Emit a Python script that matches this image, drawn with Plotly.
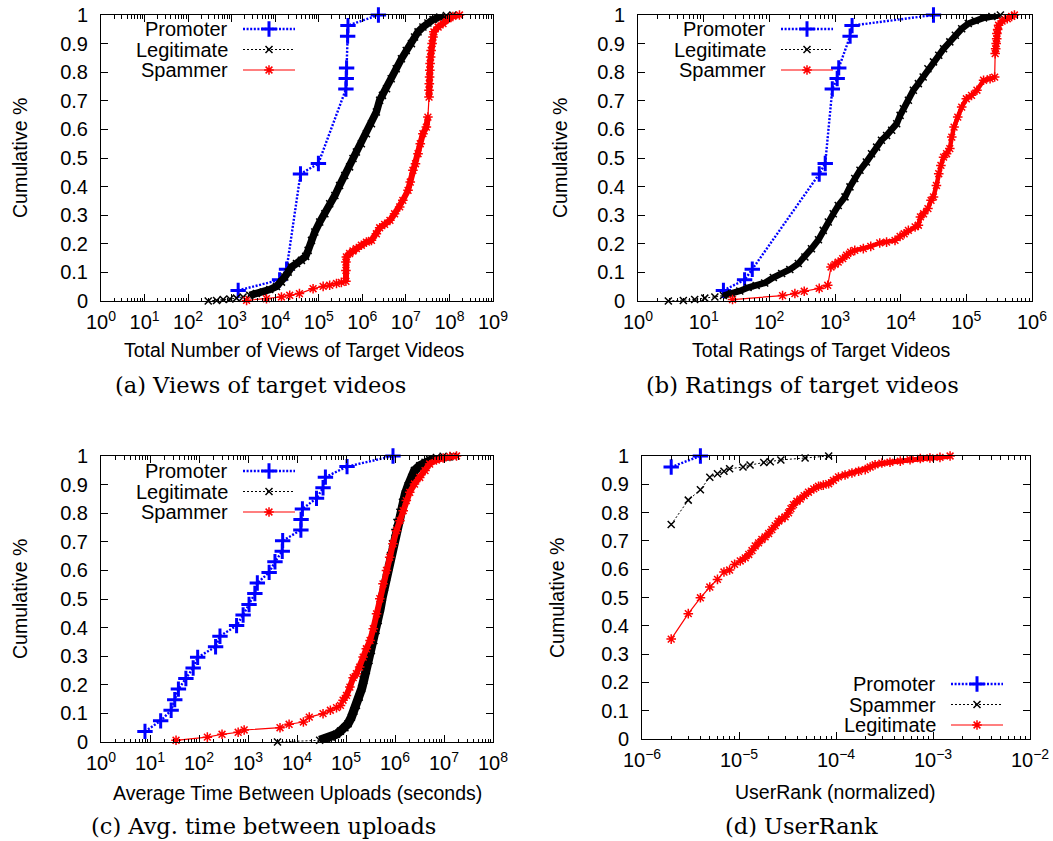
import plotly.graph_objects as go

W, H = 1053, 841

# ---------------- (a) views of target videos ----------------
views_prom_x = [1.41e3, 1.26e4, 1.82e4, 3.8e4, 9.8e4, 4.2e5, 4.27e5, 4.35e5, 4.6e5, 4.68e5, 2.34e6]
views_prom_y = [0.037, 0.074, 0.111, 0.444, 0.481, 0.741, 0.778, 0.815, 0.926, 0.963, 1.0]

views_legit_x = [2.9e2, 4.5e2, 6.4e2, 9.1e2, 1.29e3, 1.83e3, 2.6e3, 3.7e3, 5.3e3, 7.5e3,
                 1.07e4, 1.39e4, 1.66e4, 1.98e4, 2.36e4, 3.08e4, 4.0e4, 5.0e4, 5.7e4, 6.8e4,
                 8.1e4, 1.05e5, 1.38e5, 1.78e5, 2.34e5, 3.0e5, 3.95e5, 5.1e5, 6.1e5, 7.3e5,
                 9.5e5, 1.24e6, 1.62e6, 2.1e6, 2.5e6, 2.9e6, 3.6e6, 4.6e6, 6.0e6, 7.9e6,
                 1.02e7, 1.34e7, 1.58e7, 1.9e7, 2.46e7, 3.2e7, 4.2e7, 6.0e7, 8.5e7, 1.2e8]
views_legit_y = [0.0, 0.002, 0.005, 0.007, 0.010, 0.014, 0.020, 0.026, 0.031, 0.040,
                 0.051, 0.066, 0.084, 0.101, 0.119, 0.131, 0.142, 0.156, 0.177, 0.212,
                 0.241, 0.276, 0.305, 0.340, 0.369, 0.404, 0.439, 0.469, 0.498, 0.521,
                 0.550, 0.585, 0.620, 0.661, 0.702, 0.719, 0.742, 0.777, 0.812, 0.847,
                 0.876, 0.900, 0.923, 0.941, 0.958, 0.972, 0.984, 0.993, 0.998, 1.0]

views_spam_x = [2.2e3, 6.3e3, 1.39e4, 2.15e4, 3.6e4, 7.4e4, 1.26e5, 1.78e5, 2.55e5, 3.3e5,
                4.2e5, 4.2e5, 4.2e5, 4.3e5, 5.1e5, 6.1e5, 7.3e5, 9.5e5, 1.24e6, 1.62e6,
                2.1e6, 2.5e6, 3.25e6, 4.3e6, 5.5e6, 7.2e6, 8.5e6, 1.12e7, 1.26e7, 1.45e7,
                1.66e7, 1.9e7, 2.14e7, 2.46e7, 2.95e7, 3.2e7, 3.4e7, 3.4e7, 3.45e7, 3.5e7,
                3.55e7, 3.6e7, 3.7e7, 3.8e7, 4.0e7, 4.2e7, 4.4e7, 5.5e7, 7.1e7, 9.3e7,
                1.2e8, 1.7e8]
views_spam_y = [0.002, 0.008, 0.014, 0.020, 0.026, 0.043, 0.051, 0.055, 0.061, 0.065,
                0.069, 0.107, 0.136, 0.154, 0.166, 0.175, 0.183, 0.195, 0.206, 0.212,
                0.235, 0.256, 0.268, 0.282, 0.305, 0.329, 0.352, 0.387, 0.416, 0.457,
                0.480, 0.515, 0.550, 0.585, 0.608, 0.643, 0.713, 0.737, 0.760, 0.783,
                0.807, 0.830, 0.853, 0.876, 0.900, 0.923, 0.941, 0.958, 0.970, 0.987,
                0.995, 1.0]

# ---------------- (b) ratings of target videos ----------------
ratings_prom_x = [20, 42, 55, 575, 710, 910, 1.08e3, 1.14e3, 1.7e3, 1.82e3, 3.16e4]
ratings_prom_y = [0.037, 0.074, 0.111, 0.444, 0.481, 0.741, 0.778, 0.815, 0.926, 0.963, 1.0]

ratings_legit_x = [2.9, 4.9, 7.3, 10.4, 14.8, 20, 26.5, 35.5, 47.5, 63,
                   85, 115, 154, 205, 276, 348, 438, 560, 662, 790,
                   940, 1.12e3, 1.42e3, 1.69e3, 2.0e3, 2.4e3, 3.0e3, 3.6e3, 4.3e3, 5.1e3,
                   6.1e3, 7.3e3, 8.7e3, 9.8e3, 1.1e4, 1.31e4, 1.56e4, 1.86e4, 2.2e4, 2.6e4,
                   3.16e4, 3.8e4, 4.5e4, 5.6e4, 6.8e4, 8.5e4, 1.07e5, 1.36e5, 1.83e5, 2.45e5,
                   3.3e5]
ratings_legit_y = [0.0, 0.002, 0.005, 0.010, 0.014, 0.019, 0.026, 0.035, 0.047, 0.054,
                   0.063, 0.082, 0.096, 0.110, 0.131, 0.154, 0.183, 0.214, 0.247, 0.276,
                   0.305, 0.334, 0.364, 0.399, 0.428, 0.457, 0.486, 0.515, 0.538, 0.562,
                   0.579, 0.597, 0.620, 0.649, 0.672, 0.702, 0.737, 0.760, 0.783, 0.812,
                   0.836, 0.859, 0.882, 0.906, 0.929, 0.952, 0.970, 0.981, 0.990, 0.995,
                   1.0]

ratings_spam_x = [27.5, 159, 245, 340, 575, 775, 870, 1.0e3, 1.12e3, 1.31e3,
                  1.5e3, 1.73e3, 2.0e3, 2.7e3, 3.5e3, 4.8e3, 6.1e3, 8.2e3, 9.8e3, 1.13e4,
                  1.31e4, 1.66e4, 1.86e4, 2.0e4, 2.23e4, 2.6e4, 2.9e4, 3.16e4, 3.5e4, 3.8e4,
                  4.1e4, 4.5e4, 5.0e4, 5.6e4, 6.0e4, 6.5e4, 7.4e4, 8.5e4, 1.0e5, 1.2e5,
                  1.45e5, 1.83e5, 2.3e5, 2.7e5, 2.75e5, 2.8e5, 2.85e5, 2.9e5, 2.92e5, 3.0e5,
                  3.1e5, 3.5e5, 4.2e5, 4.9e5, 5.4e5]
ratings_spam_y = [0.005, 0.019, 0.026, 0.034, 0.044, 0.055, 0.119, 0.128, 0.136, 0.148,
                  0.160, 0.171, 0.177, 0.183, 0.191, 0.203, 0.206, 0.212, 0.226, 0.235,
                  0.247, 0.259, 0.265, 0.294, 0.305, 0.323, 0.352, 0.364, 0.404, 0.445,
                  0.474, 0.503, 0.515, 0.533, 0.573, 0.608, 0.643, 0.678, 0.707, 0.719,
                  0.737, 0.772, 0.777, 0.783, 0.865, 0.882, 0.900, 0.917, 0.935, 0.949,
                  0.964, 0.979, 0.987, 0.995, 1.0]

# ---------------- (c) average time between uploads ----------------
upload_prom_x = [7.9, 16.5, 27, 32, 38, 54, 76, 94, 218, 268,
                 585, 795, 1.05e3, 1.38e3, 1.55e3, 2.7e3, 3.55e3, 5.0e3, 5.1e3, 1.2e4,
                 1.21e4, 1.29e4, 2.5e4, 3.4e4, 3.8e4, 1.05e5, 9.1e5]
upload_prom_y = [0.037, 0.074, 0.111, 0.148, 0.185, 0.222, 0.259, 0.296, 0.333, 0.370,
                 0.407, 0.444, 0.481, 0.519, 0.556, 0.593, 0.630, 0.667, 0.704, 0.741,
                 0.778, 0.815, 0.852, 0.889, 0.926, 0.963, 1.0]

upload_legit_x = [4.0e3, 2.9e4, 4.0e4, 5.0e4, 6.4e4, 7.7e4, 9.5e4, 1.1e5, 1.29e5, 1.45e5,
                  1.63e5, 1.86e5, 2.09e5, 2.3e5, 2.6e5, 2.95e5, 3.3e5, 3.7e5, 4.1e5, 4.55e5,
                  5.0e5, 5.5e5, 6.1e5, 6.7e5, 7.4e5, 8.1e5, 8.9e5, 1.0e6, 1.1e6, 1.26e6,
                  1.42e6, 1.62e6, 1.86e6, 2.2e6, 2.5e6, 3.2e6, 4.1e6, 5.1e6, 7.0e6, 9.6e6,
                  1.54e7]
upload_legit_y = [0.0, 0.006, 0.012, 0.017, 0.027, 0.038, 0.050, 0.064, 0.087, 0.108,
                  0.128, 0.157, 0.186, 0.215, 0.250, 0.285, 0.320, 0.355, 0.390, 0.425,
                  0.466, 0.506, 0.541, 0.576, 0.611, 0.652, 0.693, 0.733, 0.768, 0.803,
                  0.838, 0.867, 0.896, 0.925, 0.949, 0.966, 0.978, 0.988, 0.995, 0.999,
                  1.0]

upload_spam_x = [34, 148, 295, 630, 835, 4.5e3, 6.9e3, 1.35e4, 1.78e4, 3.4e4,
                 4.8e4, 6.4e4, 7.7e4, 8.7e4, 1.02e5, 1.2e5, 1.4e5, 1.63e5, 1.9e5, 2.24e5,
                 2.6e5, 3.1e5, 3.6e5, 4.2e5, 4.9e5, 5.7e5, 6.7e5, 7.8e5, 9.1e5, 1.07e6,
                 1.26e6, 1.47e6, 1.7e6, 2.0e6, 2.5e6, 3.2e6, 4.1e6, 5.1e6, 7.0e6, 9.6e6,
                 1.32e7, 1.8e7]
upload_spam_y = [0.006, 0.017, 0.027, 0.034, 0.042, 0.050, 0.062, 0.070, 0.087, 0.099,
                 0.111, 0.120, 0.128, 0.146, 0.163, 0.192, 0.225, 0.239, 0.262, 0.297,
                 0.326, 0.355, 0.396, 0.448, 0.501, 0.553, 0.600, 0.646, 0.693, 0.739,
                 0.774, 0.809, 0.844, 0.873, 0.902, 0.925, 0.949, 0.972, 0.986, 0.993,
                 0.998, 1.0]

# ---------------- (d) UserRank ----------------
rank_prom_x = [2e-6, 4e-6]
rank_prom_y = [0.961, 1.0]

rank_spam_x = [2e-6, 3e-6, 4e-6, 5e-6, 6e-6, 7e-6, 8e-6, 1.1e-5, 1.3e-5, 1.8e-5,
               2.1e-5, 2.7e-5, 4.8e-5, 8.4e-5]
rank_spam_y = [0.758, 0.844, 0.881, 0.925, 0.937, 0.946, 0.955, 0.961, 0.968, 0.977,
               0.980, 0.986, 0.993, 1.0]

rank_legit_x = [2e-6, 3e-6, 4e-6, 5e-6, 6e-6, 7e-6, 8e-6, 9e-6, 1.03e-5, 1.16e-5,
                1.26e-5, 1.36e-5, 1.47e-5, 1.59e-5, 1.72e-5, 1.86e-5, 2.02e-5, 2.18e-5, 2.36e-5, 2.56e-5,
                2.77e-5, 2.99e-5, 3.24e-5, 3.43e-5, 3.65e-5, 3.95e-5, 4.28e-5, 4.7e-5, 5.2e-5, 5.9e-5,
                6.6e-5, 7.4e-5, 8.4e-5, 9.4e-5, 1.06e-4, 1.24e-4, 1.46e-4, 1.71e-4, 2.0e-4, 2.25e-4,
                2.53e-4, 2.97e-4, 3.6e-4, 4.6e-4, 5.8e-4, 7.4e-4, 9.3e-4, 1.18e-3, 1.5e-3]
rank_legit_y = [0.353, 0.443, 0.499, 0.537, 0.564, 0.590, 0.597, 0.617, 0.629, 0.640,
                0.652, 0.666, 0.682, 0.693, 0.705, 0.714, 0.726, 0.740, 0.754, 0.770,
                0.778, 0.785, 0.799, 0.814, 0.828, 0.840, 0.848, 0.860, 0.872, 0.884,
                0.893, 0.897, 0.902, 0.914, 0.926, 0.933, 0.940, 0.946, 0.952, 0.961,
                0.969, 0.975, 0.978, 0.982, 0.987, 0.991, 0.993, 0.995, 1.0]

y_ticks = [0, 0.1, 0.2, 0.3, 0.4, 0.5, 0.6, 0.7, 0.8, 0.9, 1]
y_ticktext = ["0", "0.1", "0.2", "0.3", "0.4", "0.5", "0.6", "0.7", "0.8", "0.9", "1"]

# ---------------- styles ----------------
SANS = "Liberation Sans, Arial, sans-serif"
SERIF = "DejaVu Serif, serif"
BLUE, RED = "#0000ff", "#ff0000"

STYLE = {
    "blue": dict(line=dict(color=BLUE, width=2.4, dash="2px,1.6px"),
                 marker=dict(symbol="cross-thin-open", size=11, color=BLUE,
                             line=dict(width=3, color=BLUE))),
    "black": dict(line=dict(color="black", width=1, dash="2px,2px"),
                  marker=dict(symbol="x-thin-open", size=7, color="black",
                              line=dict(width=1.5, color="black"))),
    "red": dict(line=dict(color=RED, width=1.2),
                marker=dict(symbol="asterisk-open", size=8, color=RED,
                            line=dict(width=1.5, color=RED))),
}
COLOR = {"blue": BLUE, "black": "black", "red": RED}

# Each series: (style, x, y, runs) -- runs are index spans where the points
# sit so tightly that the overlapping markers merge into a solid band.
panels = [
    dict(ax="", box=(101, 493, 15, 301), dec=(0, 9),
         series=[("blue", views_prom_x, views_prom_y, []),
                 ("black", views_legit_x, views_legit_y, [(6, 49, 7.5)]),
                 ("red", views_spam_x, views_spam_y, [(10, 35, 6), (36, 51, 6)])],
         legend=[("Promoter", "blue"), ("Legitimate", "black"), ("Spammer", "red")],
         leg_pos=(230, 29), xtitle="Total Number of Views of Target Videos",
         xtitle_pos=(294, 350), caption="(a) Views of target videos", cap_pos=(260, 385),
         ytitle_pos=(20, 158)),
    dict(ax="2", box=(638, 1032, 15, 301), dec=(0, 6),
         series=[("blue", ratings_prom_x, ratings_prom_y, []),
                 ("black", ratings_legit_x, ratings_legit_y, [(5, 50, 6.5)]),
                 ("red", ratings_spam_x, ratings_spam_y, [(6, 43, 4.5), (44, 54, 5.5)])],
         legend=[("Promoter", "blue"), ("Legitimate", "black"), ("Spammer", "red")],
         leg_pos=(768, 29), xtitle="Total Ratings of Target Videos",
         xtitle_pos=(821, 350), caption="(b) Ratings of target videos", cap_pos=(802, 385),
         ytitle_pos=(560, 158)),
    dict(ax="3", box=(101, 493, 456, 742), dec=(0, 8),
         series=[("blue", upload_prom_x, upload_prom_y, []),
                 ("black", upload_legit_x, upload_legit_y, [(1, 40, 9)]),
                 ("red", upload_spam_x, upload_spam_y, [(13, 41, 6)])],
         legend=[("Promoter", "blue"), ("Legitimate", "black"), ("Spammer", "red")],
         leg_pos=(230, 471), xtitle="Average Time Between Uploads (seconds)",
         xtitle_pos=(297, 793), caption="(c) Avg. time between uploads", cap_pos=(263, 826),
         ytitle_pos=(20, 599)),
    dict(ax="4", box=(642, 1030, 456, 739), dec=(-6, -2),
         series=[("blue", rank_prom_x, rank_prom_y, []),
                 ("black", rank_spam_x, rank_spam_y, []),
                 ("red", rank_legit_x, rank_legit_y, [(8, 48, 5)])],
         legend=[("Promoter", "blue"), ("Spammer", "black"), ("Legitimate", "red")],
         leg_pos=(938, 684), xtitle="UserRank (normalized)",
         xtitle_pos=(835, 792), caption="(d) UserRank", cap_pos=(801, 826),
         ytitle_pos=(557, 598)),
]

fig = go.Figure()
annotations = []
layout_axes = {}


def sup(e):
    return "10<sup>%s</sup>" % (str(e).replace("-", "\u2212"))


for p in panels:
    left, right, top, bottom = p["box"]
    lo, hi = p["dec"]
    xa, ya = "x" + p["ax"], "y" + p["ax"]
    for style, xs, ys, runs in p["series"]:
        for i0, i1, bw in runs:
            fig.add_trace(go.Scatter(x=xs[i0:i1 + 1], y=ys[i0:i1 + 1], xaxis=xa, yaxis=ya,
                                     mode="lines", showlegend=False, cliponaxis=False,
                                     line=dict(color=COLOR[style], width=bw),
                                     hoverinfo="skip"))
        fig.add_trace(go.Scatter(x=xs, y=ys, xaxis=xa, yaxis=ya, mode="lines+markers",
                                 showlegend=False, cliponaxis=False, **STYLE[style]))
    major = [10.0 ** e for e in range(lo, hi + 1)]
    minor = [m * 10.0 ** e for e in range(lo, hi) for m in range(2, 10)]
    layout_axes["xaxis" + p["ax"]] = dict(
        type="log", domain=[left / W, right / W], range=[lo, hi], anchor=ya,
        automargin=False,
        tickmode="array", tickvals=major, ticktext=[sup(e) for e in range(lo, hi + 1)],
        ticks="inside", ticklen=7, tickcolor="black", tickwidth=1,
        minor=dict(ticks="inside", ticklen=3.5, tickcolor="black", tickwidth=1,
                   tickmode="array", tickvals=minor, showgrid=False),
        showline=True, linecolor="black", linewidth=1, mirror="allticks",
        showgrid=False, zeroline=False, ticklabelstandoff=3,
        tickfont=dict(family=SANS, size=20, color="black"))
    layout_axes["yaxis" + p["ax"]] = dict(
        domain=[1 - bottom / H, 1 - top / H], range=[0, 1], anchor=xa,
        automargin=False,
        tickmode="array", tickvals=y_ticks, ticktext=y_ticktext,
        ticks="inside", ticklen=7, tickcolor="black", tickwidth=1,
        showline=True, linecolor="black", linewidth=1, mirror="allticks",
        showgrid=False, zeroline=False, ticklabelstandoff=8,
        tickfont=dict(family=SANS, size=20, color="black"))

    # key: label on the left, line sample with a marker on the right
    tx, ty = p["leg_pos"]
    for i, (label, style) in enumerate(p["legend"]):
        yy = ty + i * 20.5
        annotations.append(dict(x=tx, y=yy, xref="x5", yref="y5", text=label,
                                showarrow=False, xanchor="right", yanchor="middle",
                                font=dict(family=SANS, size=20, color="black")))
        st = STYLE[style]
        fig.add_trace(go.Scatter(x=[tx + 13, tx + 65], y=[yy, yy], xaxis="x5", yaxis="y5",
                                 mode="lines", line=st["line"], showlegend=False,
                                 hoverinfo="skip"))
        fig.add_trace(go.Scatter(x=[tx + 39], y=[yy], xaxis="x5", yaxis="y5",
                                 mode="markers", marker=st["marker"], showlegend=False,
                                 hoverinfo="skip"))

    annotations.append(dict(x=p["xtitle_pos"][0], y=p["xtitle_pos"][1], xref="x5", yref="y5",
                            text=p["xtitle"], showarrow=False, xanchor="center",
                            yanchor="middle", font=dict(family=SANS, size=19.5, color="black")))
    annotations.append(dict(x=p["cap_pos"][0], y=p["cap_pos"][1], xref="x5", yref="y5",
                            text=p["caption"], showarrow=False, xanchor="center",
                            yanchor="middle", font=dict(family=SERIF, size=22.5, color="black")))
    annotations.append(dict(x=p["ytitle_pos"][0], y=p["ytitle_pos"][1], xref="x5", yref="y5",
                            text="Cumulative %", textangle=-90, showarrow=False,
                            xanchor="center", yanchor="middle",
                            font=dict(family=SANS, size=19.5, color="black")))

# pixel-space overlay used for keys and text placement
layout_axes["xaxis5"] = dict(domain=[0, 1], range=[0, W], visible=False, anchor="y5",
                             fixedrange=True, automargin=False)
layout_axes["yaxis5"] = dict(domain=[0, 1], range=[H, 0], visible=False, anchor="x5",
                             fixedrange=True, automargin=False)

fig.update_layout(width=W, height=H, margin=dict(l=0, r=0, t=0, b=0, autoexpand=False),
                  paper_bgcolor="white", plot_bgcolor="rgba(0,0,0,0)",
                  showlegend=False, annotations=annotations, **layout_axes)

fig.write_html("out.html", config={"displayModeBar": False})
